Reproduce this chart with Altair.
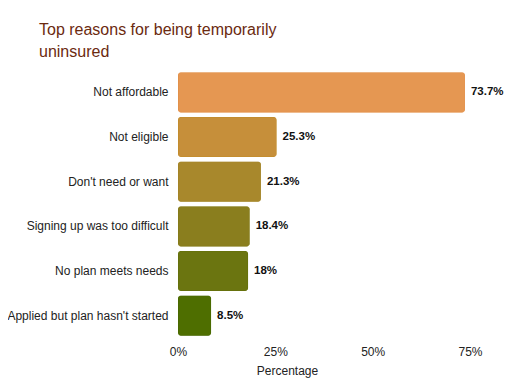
import altair as alt
import pandas as pd

reasons = ["Not affordable", "Not eligible", "Don't need or want",
           "Signing up was too difficult", "No plan meets needs",
           "Applied but plan hasn't started"]
values = [73.7, 25.3, 21.3, 18.4, 18.0, 8.5]
labels = ["73.7%", "25.3%", "21.3%", "18.4%", "18%", "8.5%"]
colors = ["#E59752", "#C68F3A", "#A8882C", "#8A7E1E", "#6B7510", "#4E6E00"]
strokes = ["#E08A40", "#C08A20", "#A08020", "#807815", "#606E08", "#456400"]

df = pd.DataFrame({"reason": reasons, "value": values, "label": labels,
                   "color": colors, "stroke": strokes})

FONT = "Liberation Sans"

y = alt.Y("reason:N", sort=reasons, title=None,
          scale=alt.Scale(paddingInner=0.1, paddingOuter=0.05),
          axis=alt.Axis(labelFont=FONT, labelFontSize=12, labelColor="#222222",
                        ticks=False, domain=False, labelPadding=10, labelLimit=220))
x = alt.X("value:Q", title="Percentage",
          scale=alt.Scale(domain=[0, 75], nice=False),
          axis=alt.Axis(values=[0, 25, 50, 75], labelExpr="datum.value + '%'",
                        grid=False, ticks=False, domain=False, labelFlush=False,
                        labelFont=FONT, labelFontSize=12, labelColor="#222222",
                        labelPadding=8, titleFont=FONT, titleFontSize=12,
                        titleColor="#222222", titleFontWeight="normal",
                        titlePadding=8, titleX=109, titleAlign="center"))

bars = alt.Chart(df).mark_bar(cornerRadius=3, strokeWidth=1).encode(
    x=x, y=y,
    color=alt.Color("color:N", scale=None),
    stroke=alt.Stroke("stroke:N", scale=None),
)
text = alt.Chart(df).mark_text(align="left", dx=6, font=FONT, fontSize=11.5,
                               fontWeight="bold", color="#111111").encode(
    x="value:Q", y=alt.Y("reason:N", sort=reasons), text="label:N")

chart = (bars + text).properties(
    width=292, height=268,
    autosize=alt.AutoSizeParams(type="none"),
    padding={"left": 170, "top": 62, "right": 34, "bottom": 42},
    title=alt.TitleParams(["Top reasons for being temporarily", "uninsured"],
                          anchor="start", frame="group", dx=-139,
                          font=FONT, fontSize=16, fontWeight="normal",
                          color="#6B2A10", lineHeight=22, offset=10),
).configure_view(stroke=None)

chart.save("out.html", embed_options={"renderer": "svg", "actions": False})
